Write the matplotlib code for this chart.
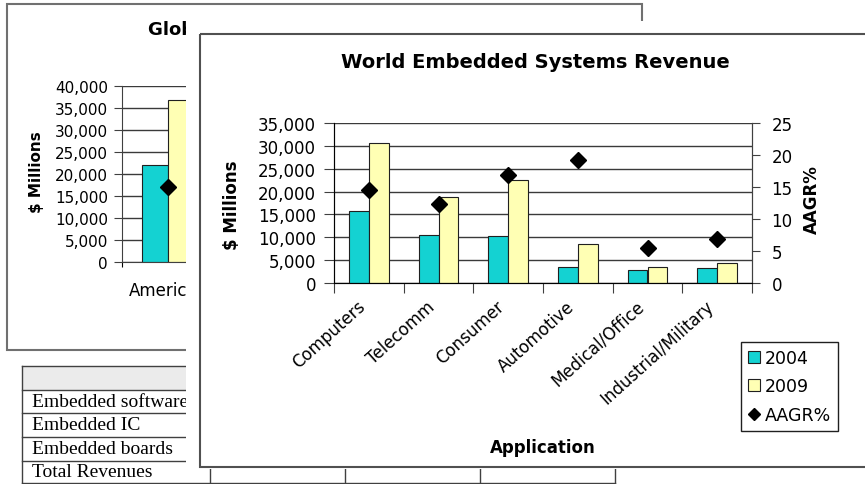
import matplotlib
matplotlib.use('Agg')
import matplotlib.pyplot as plt
from matplotlib.patches import Rectangle, Patch
from matplotlib.lines import Line2D
from matplotlib.ticker import FuncFormatter, MultipleLocator, NullFormatter
from matplotlib.transforms import ScaledTranslation

# front chart: revenue by application ($ millions) and growth rate
categories = ['Computers', 'Telecomm', 'Consumer', 'Automotive', 'Medical/Office', 'Industrial/Military']
rev_2004 = [15750, 10570, 10280, 3430, 2840, 3350]
rev_2009 = [30690, 18740, 22460, 8530, 3500, 4370]
aagr = [14.5, 12.3, 16.9, 19.2, 5.4, 6.9]

# back chart: revenue by region, only the first region is visible
regions = ['Americas']
region_2004 = [22000]
region_2009 = [36900]
region_aagr = [10.7]

# table rows
table_rows = ['Embedded software', 'Embedded IC', 'Embedded boards', 'Total Revenues']

TEAL = '#14d2d2'
YELLOW = '#ffffb4'
W, H = 865, 485


def box(x0, y0, x1, y1):
    # pixel box (top-left origin) -> figure fraction
    return [x0 / W, 1 - y1 / H, (x1 - x0) / W, (y1 - y0) / H]


def thousands(v, pos):
    return f'{v:,.0f}'


plt.rcParams['font.family'] = 'DejaVu Sans'
fig = plt.figure(figsize=(W / 100, H / 100), dpi=100)

# ---- page layer: back window frame and the table
page = fig.add_axes([0, 0, 1, 1], zorder=0)
page.set_xlim(0, W)
page.set_ylim(H, 0)
page.axis('off')
page.add_patch(Rectangle((7, 5), 635, 346, facecolor='white', edgecolor='#707070', lw=1.5))
page.text(148, 30, 'Global Embedded Systems Revenue', fontsize=13, fontweight='bold',
          ha='left', va='center')
page.text(37, 172, '$ Millions', fontsize=11, fontweight='bold', rotation=90,
          ha='center', va='center')

col_x = [22, 210, 345, 480, 615]
row_y = [367, 391, 414, 438, 462, 484]
page.add_patch(Rectangle((col_x[0], row_y[0]), col_x[-1] - col_x[0], row_y[1] - row_y[0],
                         facecolor='#ebebeb', edgecolor='none'))
for y in row_y:
    page.plot([col_x[0], col_x[-1]], [y, y], color='#404040', lw=1)
for x in col_x:
    page.plot([x, x], [row_y[0], row_y[-1]], color='#404040', lw=1)
for i, name in enumerate(table_rows):
    yc = (row_y[i + 1] + row_y[i + 2]) / 2
    page.text(32, yc, name, family='Liberation Serif', fontsize=14, ha='left', va='center')

# ---- back chart
bax = fig.add_axes(box(122, 87, 582, 263), zorder=1)
bx = [i + 0.5 for i in range(len(regions))]
bw = 0.283
bax.bar([x - bw / 2 for x in bx], region_2004, bw, color=TEAL, edgecolor='#202020', lw=0.8)
bax.bar([x + bw / 2 for x in bx], region_2009, bw, color=YELLOW, edgecolor='#202020', lw=0.8)
bax.set_xlim(0, 5)
bax.set_ylim(0, 40000)
bax.yaxis.set_major_locator(MultipleLocator(5000))
bax.yaxis.set_major_formatter(FuncFormatter(thousands))
bax.yaxis.grid(True, color='#3a3a3a', lw=1)
bax.set_axisbelow(True)
bax.set_xticks(range(6))
bax.set_xticklabels([])
bax.set_xticks(bx, minor=True)
bax.set_xticklabels(regions, minor=True)
bax.tick_params(axis='x', which='minor', length=0, pad=14, labelsize=12)
bax.tick_params(axis='y', length=6, pad=4, labelsize=11, color='#404040')
for s in ['top', 'right']:
    bax.spines[s].set_visible(False)
for s in ['left', 'bottom']:
    bax.spines[s].set_color('#404040')
bax2 = bax.twinx()
bax2.plot(bx, region_aagr, 'D', color='black', ms=8)
bax2.set_ylim(0, 25)
bax2.axis('off')

# ---- front window: white sheet with a frame
front = fig.add_axes([0, 0, 1, 1], zorder=2)
front.set_xlim(0, W)
front.set_ylim(H, 0)
front.axis('off')
front.add_patch(Rectangle((186, 22), 700, 448, facecolor='white', edgecolor='none'))
front.add_patch(Rectangle((200, 35), 700, 433, facecolor='none', edgecolor='#505050', lw=1.5))
front.text(535, 63, 'World Embedded Systems Revenue', fontsize=14, fontweight='bold',
           ha='center', va='center')
front.text(232, 205, '$ Millions', fontsize=12, fontweight='bold', rotation=90,
           ha='center', va='center')
front.text(812, 200, 'AAGR%', fontsize=12, fontweight='bold', rotation=90,
           ha='center', va='center')
front.text(543, 448, 'Application', fontsize=12, fontweight='bold', ha='center', va='center')

# ---- front chart
ax = fig.add_axes(box(334, 124, 752, 284), zorder=3)
x = [i + 0.5 for i in range(len(categories))]
w = 0.283
ax.bar([v - w / 2 for v in x], rev_2004, w, color=TEAL, edgecolor='#202020', lw=0.8)
ax.bar([v + w / 2 for v in x], rev_2009, w, color=YELLOW, edgecolor='#202020', lw=0.8)
ax.set_xlim(0, len(categories))
ax.set_ylim(0, 35000)
ax.yaxis.set_major_locator(MultipleLocator(5000))
ax.yaxis.set_major_formatter(FuncFormatter(thousands))
ax.yaxis.grid(True, color='#3a3a3a', lw=1)
ax.set_axisbelow(True)
ax.set_xticks(range(len(categories) + 1))
ax.xaxis.set_major_formatter(NullFormatter())
ax.tick_params(axis='x', which='major', length=7, color='#404040')
ax.tick_params(axis='y', length=7, pad=6, labelsize=12, color='#404040')
ax.spines['top'].set_visible(False)
for s in ['left', 'bottom', 'right']:
    ax.spines[s].set_color('#404040')

# slanted category names, right end just below-left of each group centre
lab_tr = ax.get_xaxis_transform() + ScaledTranslation(-0.12, -0.14, fig.dpi_scale_trans)
for xi, name in zip(x, categories):
    ax.text(xi, 0, name, transform=lab_tr, fontsize=12, rotation=42, ha='right', va='top',
            rotation_mode='anchor')

ax2 = ax.twinx()
ax2.plot(x, aagr, 'D', color='black', ms=8, linestyle='none')
ax2.set_ylim(0, 25)
ax2.yaxis.set_major_locator(MultipleLocator(5))
ax2.tick_params(axis='y', length=6, pad=8, labelsize=12, color='#404040')
ax2.spines['top'].set_visible(False)
ax2.spines['right'].set_color('#404040')

handles = [Patch(facecolor=TEAL, edgecolor='#202020', lw=0.8),
           Patch(facecolor=YELLOW, edgecolor='#202020', lw=0.8),
           Line2D([], [], marker='D', color='black', ms=6, linestyle='none')]
leg = ax2.legend(handles, ['2004', '2009', 'AAGR%'], loc='upper left',
                 bbox_to_anchor=(741 / W, 1 - 343 / H), bbox_transform=fig.transFigure,
                 fontsize=12.5, fancybox=False, framealpha=1, edgecolor='#202020',
                 handlelength=0.7, handleheight=0.7, handletextpad=0.25,
                 labelspacing=0.6, borderpad=0.4, borderaxespad=0)
leg.get_frame().set_linewidth(1)

fig.savefig('out.png', dpi=100, facecolor='white')
